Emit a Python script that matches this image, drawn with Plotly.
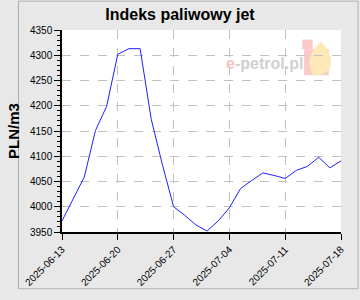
import plotly.graph_objects as go

dates = ["2025-06-13", "2025-06-16", "2025-06-17", "2025-06-18", "2025-06-19",
         "2025-06-20", "2025-06-23", "2025-06-24", "2025-06-25", "2025-06-26",
         "2025-06-27", "2025-06-30", "2025-07-01", "2025-07-02", "2025-07-03",
         "2025-07-04", "2025-07-07", "2025-07-08", "2025-07-09", "2025-07-10",
         "2025-07-11", "2025-07-14", "2025-07-15", "2025-07-16", "2025-07-17",
         "2025-07-18"]
values = [3972, 4015, 4059, 4151, 4199,
          4302, 4313, 4313, 4173, 4083,
          4000, 3983, 3964, 3952, 3972,
          3998, 4036, 4052, 4067, 4062,
          4056, 4072, 4080, 4098, 4077,
          4091]
tick_labels = ["2025-06-13", "2025-06-20", "2025-06-27", "2025-07-04", "2025-07-11", "2025-07-18"]
title = "Indeks paliwowy jet"
y_title = "PLN/m3"

fig = go.Figure()
fig.add_trace(go.Scatter(x=dates, y=values, mode="lines",
                         line=dict(color="#2020ff", width=1), hoverinfo="skip"))

fig.update_layout(
    width=360, height=300,
    margin=dict(l=46, r=19, t=30, b=60),
    paper_bgcolor="#e8e8e8", plot_bgcolor="#ffffff",
    showlegend=False,
    font=dict(family="Liberation Sans, Arial, sans-serif", color="#000000", size=10),
    title=dict(text="<b>" + title + "</b>", x=0.5, xanchor="center", y=1 - 14 / 300, yanchor="middle",
               font=dict(size=16)),
)
fig.update_xaxes(type="category", range=[0, len(dates) - 1],
                 tickmode="array", tickvals=tick_labels, ticktext=tick_labels,
                 tickangle=-45, ticks="outside", ticklen=6, tickcolor="#000",
                 showline=True, linecolor="#000", linewidth=1.5,
                 showgrid=True, gridcolor="#c0c0c0", griddash="dash", gridwidth=1,
                 zeroline=False, tickfont=dict(size=10))
fig.update_yaxes(range=[3950, 4350], dtick=50, ticks="outside", ticklen=6, tickcolor="#000",
                 showline=True, linecolor="#000", linewidth=1.5,
                 showgrid=True, gridcolor="#c0c0c0", griddash="dash", gridwidth=1,
                 zeroline=False, tickfont=dict(size=10),
                 minor=dict(dtick=10, ticks="outside", ticklen=3, tickcolor="#000", showgrid=False),
                 title=dict(text="<b>" + y_title + "</b>", font=dict(size=15), standoff=7))

# watermark logo
fig.add_shape(type="rect", xref="paper", yref="paper", x0=(300-46)/295, x1=(311-46)/295,
              y0=(240-50)/210, y1=(240-40)/210, fillcolor="#fbc9c9", line_width=0, layer="below")
fig.add_shape(type="rect", xref="paper", yref="paper", x0=(302-46)/295, x1=(328-46)/295,
              y0=(240-77)/210, y1=(240-50)/210, fillcolor="#fbc9c9", line_width=0, layer="below")
fig.add_shape(type="path", xref="paper", yref="paper",
              path="M %f %f Q %f %f %f %f Q %f %f %f %f Q %f %f %f %f Z" % (
                  (312-46)/295, (240-77)/210,
                  (300-46)/295, (240-60)/210, (320-46)/295, (240-42)/210,
                  (333-46)/295, (240-55)/210, (330-46)/295, (240-68)/210,
                  (326-46)/295, (240-78)/210, (312-46)/295, (240-77)/210),
              fillcolor="#fde8b8", line_width=0, layer="below")
fig.add_annotation(xref="paper", yref="paper", x=(217-46)/295, y=(240-65)/210,
                   xanchor="left", yanchor="middle", showarrow=False,
                   text="<b><span style='color:#f6c4c4'>e</span>-petrol.pl</b>",
                   font=dict(size=16, color="#d0d0d0", family="Liberation Sans"))

fig.add_shape(type="rect", xref="paper", yref="paper", x0=-46/295, x1=(360-46-1)/295,
              y0=-(60-1)/210, y1=(240)/210, line=dict(color="#b0b0b0", width=1), layer="below")

fig.write_html("out.html")
